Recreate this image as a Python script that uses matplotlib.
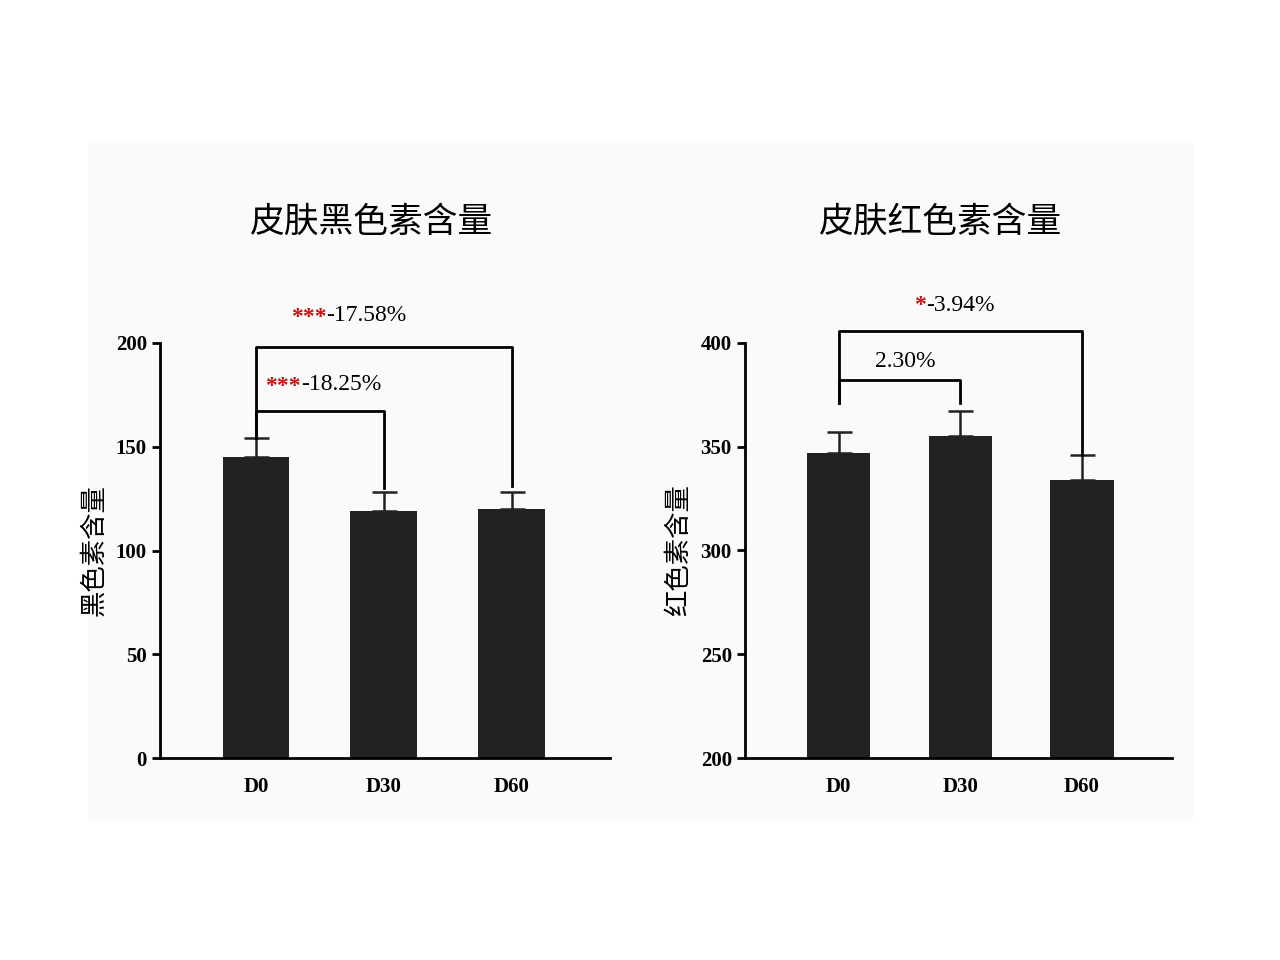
import matplotlib
matplotlib.use('Agg')
import matplotlib.pyplot as plt
from matplotlib.patches import Rectangle

plt.rcParams['font.family'] = ['Liberation Serif', 'Noto Sans CJK SC']

# 数据
groups = ['D0', 'D30', 'D60']
melanin = [145, 119, 120]
melanin_err = [9, 9, 8]
red = [347, 355, 334]
red_err = [10, 12, 12]

W, H = 1280, 960
fig = plt.figure(figsize=(12.8, 9.6), dpi=100)
fig.patches.append(Rectangle((88 / W, 1 - 820 / H), (1192 - 88) / W, (820 - 143) / H,
                             transform=fig.transFigure, color='#fafafa', zorder=-10))


def make_axes(x0, x1, y0, y1):
    return fig.add_axes([x0 / W, 1 - y1 / H, (x1 - x0) / W, (y1 - y0) / H])


def draw_panel(ax, vals, errs, ylim, yticks, ylabel, xlim):
    ax.patch.set_alpha(0)
    ax.bar(range(3), vals, width=0.52, color='#222222', zorder=2)
    ax.errorbar(range(3), vals, yerr=[[0] * 3, errs], fmt='none', ecolor='#222222',
                capsize=9, elinewidth=1.8, capthick=1.8, zorder=1)
    ax.set_xlim(*xlim)
    ax.set_ylim(*ylim)
    ax.set_yticks(yticks)
    ax.set_xticks(range(3))
    ax.set_xticklabels(groups)
    for s in ['top', 'right']:
        ax.spines[s].set_visible(False)
    for s in ['left', 'bottom']:
        ax.spines[s].set_linewidth(2)
    ax.tick_params(width=2, length=6, labelsize=15)
    ax.tick_params(axis='x', length=0, pad=14)
    for t in ax.get_xticklabels() + ax.get_yticklabels():
        t.set_fontweight('bold')
    ax.set_ylabel(ylabel, fontsize=19, family='Noto Sans CJK SC', labelpad=6)


def bracket(ax, x0, x1, y, yl, yr):
    ax.plot([x0, x0, x1, x1], [yl, y, y, yr], color='black', lw=2, clip_on=False)


ax1 = make_axes(160, 610, 343, 758)
draw_panel(ax1, melanin, melanin_err, (0, 200), [0, 50, 100, 150, 200], '黑色素含量', (-0.75, 2.77))
bracket(ax1, 0, 2, 198, 154, 131)
bracket(ax1, 0, 1, 167, 154, 130)
ax1.text(0.55, 207, '***', color='#cc1111', fontsize=17, fontweight='bold', ha='right', va='bottom')
ax1.text(0.55, 208, '-17.58%', fontsize=17, ha='left', va='bottom')
ax1.text(0.35, 174, '***', color='#cc1111', fontsize=17, fontweight='bold', ha='right', va='bottom')
ax1.text(0.35, 175, '-18.25%', fontsize=17, ha='left', va='bottom')

ax2 = make_axes(745, 1172, 343, 758)
draw_panel(ax2, red, red_err, (200, 400), [200, 250, 300, 350, 400], '红色素含量', (-0.77, 2.74))
bracket(ax2, 0, 2, 406, 371, 346)
bracket(ax2, 0, 1, 382, 371, 371)
ax2.text(0.55, 386, '2.30%', fontsize=17, ha='center', va='bottom')
ax2.text(0.72, 413, '*', color='#cc1111', fontsize=17, fontweight='bold', ha='right', va='bottom')
ax2.text(0.72, 413, '-3.94%', fontsize=17, ha='left', va='bottom')

fig.text(372 / W, 1 - 222 / H, '皮肤黑色素含量', fontsize=25, family='Noto Sans CJK SC',
         fontweight='medium', ha='center', va='center')
fig.text(941 / W, 1 - 222 / H, '皮肤红色素含量', fontsize=25, family='Noto Sans CJK SC',
         fontweight='medium', ha='center', va='center')

fig.savefig('out.png', dpi=100, facecolor='white')
